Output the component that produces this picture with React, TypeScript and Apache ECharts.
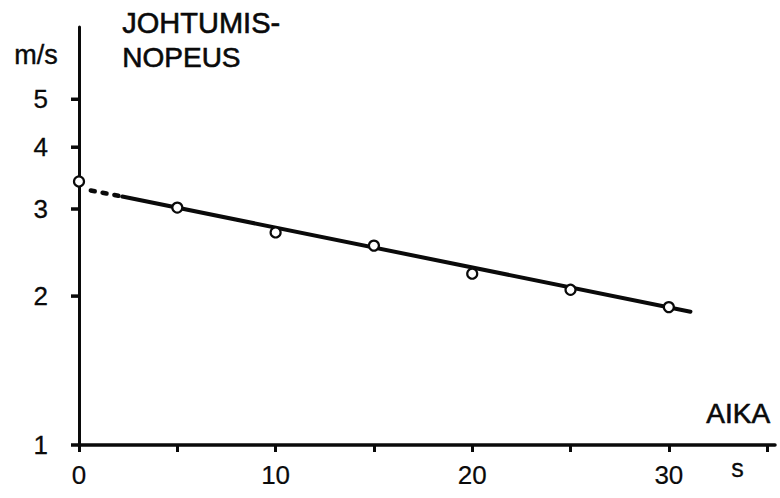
import React, { useEffect, useRef } from "react";
import * as echarts from "echarts";

// Measured conduction speed (m/s) against time (s)
const timeValues = [0, 5, 10, 15, 20, 25, 30];
const speedValues = [3.41, 3.02, 2.69, 2.53, 2.22, 2.06, 1.9];

// Fitted exponential decay: short dashed extrapolation, then the solid fit
const fitDashedTime = [0.6, 2.2];
const fitDashedSpeed = [3.27, 3.18];
const fitSolidTime = [2.2, 31.1];
const fitSolidSpeed = [3.18, 1.86];

// Labelled ticks on the logarithmic speed axis
const speedTicks = [1, 2, 3, 4, 5];
// Labelled ticks on the time axis
const timeLabels = [0, 10, 20, 30];

const FONT = '"Liberation Sans", Arial, sans-serif';
const INK = "#0a0a0a";

export default function App() {
  const ref = useRef<HTMLDivElement>(null);

  useEffect(() => {
    if (!ref.current) return;
    const chart = echarts.init(ref.current, null, { renderer: "svg" });

    const pairs = (xs: number[], ys: number[]) => xs.map((x, i) => [x, ys[i]]);

    chart.setOption({
      animation: false,
      backgroundColor: "#ffffff",
      grid: { left: 79, right: 5, top: 27, bottom: 53, containLabel: false },
      xAxis: {
        type: "value",
        min: 0,
        max: 35.4,
        interval: 5,
        splitLine: { show: false },
        axisLine: { show: true, lineStyle: { color: INK, width: 3.5 } },
        axisTick: { show: true, length: 7, inside: false, lineStyle: { color: INK, width: 3 } },
        axisLabel: {
          show: true,
          margin: 17,
          showMaxLabel: false,
          color: INK,
          fontFamily: FONT,
          fontSize: 26,
          textBorderColor: INK,
          textBorderWidth: 0.2,
          formatter: (v: number) => (timeLabels.includes(v) ? String(v) : ""),
        },
      },
      yAxis: {
        type: "log",
        logBase: 10,
        min: 1,
        max: 7,
        splitLine: { show: false },
        axisLine: { show: true, onZero: false, lineStyle: { color: INK, width: 3 } },
        axisTick: { show: false },
        axisLabel: { show: false },
      },
      graphic: [
        { type: "text", left: 14, top: 41, style: { text: "m/s", font: `27px ${FONT}`, fill: INK, stroke: INK, lineWidth: 0.4 } },
        { type: "text", left: 122, top: 8, style: { text: "JOHTUMIS-", font: `29px ${FONT}`, fill: INK, stroke: INK, lineWidth: 0.6 } },
        { type: "text", left: 122, top: 43, style: { text: "NOPEUS", font: `28px ${FONT}`, fill: INK, stroke: INK, lineWidth: 0.6 } },
        { type: "text", left: 706, top: 399, style: { text: "AIKA", font: `28px ${FONT}`, fill: INK, stroke: INK, lineWidth: 0.6 } },
        { type: "text", left: 731, top: 455, style: { text: "s", font: `25px ${FONT}`, fill: INK, stroke: INK, lineWidth: 0.3 } },
      ],
      series: [
        {
          type: "custom",
          coordinateSystem: "cartesian2d",
          data: speedTicks.map((v) => [0, v]),
          encode: { x: 0, y: 1 },
          silent: true,
          z: 5,
          renderItem: (_params: any, api: any) => {
            const p = api.coord([0, api.value(1)]);
            return {
              type: "group",
              children: [
                {
                  type: "line",
                  shape: { x1: p[0] - 8, y1: p[1], x2: p[0], y2: p[1] },
                  style: { stroke: INK, lineWidth: 3.5 },
                },
                {
                  type: "text",
                  style: {
                    text: String(api.value(1)),
                    x: p[0] - 31,
                    y: p[1],
                    align: "right",
                    verticalAlign: "middle",
                    font: `26px ${FONT}`,
                    fill: INK,
                    stroke: INK,
                    lineWidth: 0.3,
                  },
                },
              ],
            };
          },
        },
        {
          type: "line",
          data: pairs(fitDashedTime, fitDashedSpeed),
          showSymbol: false,
          silent: true,
          lineStyle: { color: INK, width: 4.5, type: [4, 8], cap: "round" },
          z: 3,
        },
        {
          type: "line",
          data: pairs(fitSolidTime, fitSolidSpeed),
          showSymbol: false,
          silent: true,
          lineStyle: { color: INK, width: 4, cap: "round" },
          z: 3,
        },
        {
          type: "scatter",
          data: pairs(timeValues, speedValues),
          symbol: "circle",
          symbolSize: 10,
          silent: true,
          itemStyle: { color: "#ffffff", borderColor: INK, borderWidth: 2.2, opacity: 1 },
          z: 6,
        },
      ],
    });

    return () => chart.dispose();
  }, []);

  return (
    <div
      ref={ref}
      style={{ position: "fixed", left: 0, top: 0, width: 780, height: 498, background: "#fff" }}
    />
  );
}
